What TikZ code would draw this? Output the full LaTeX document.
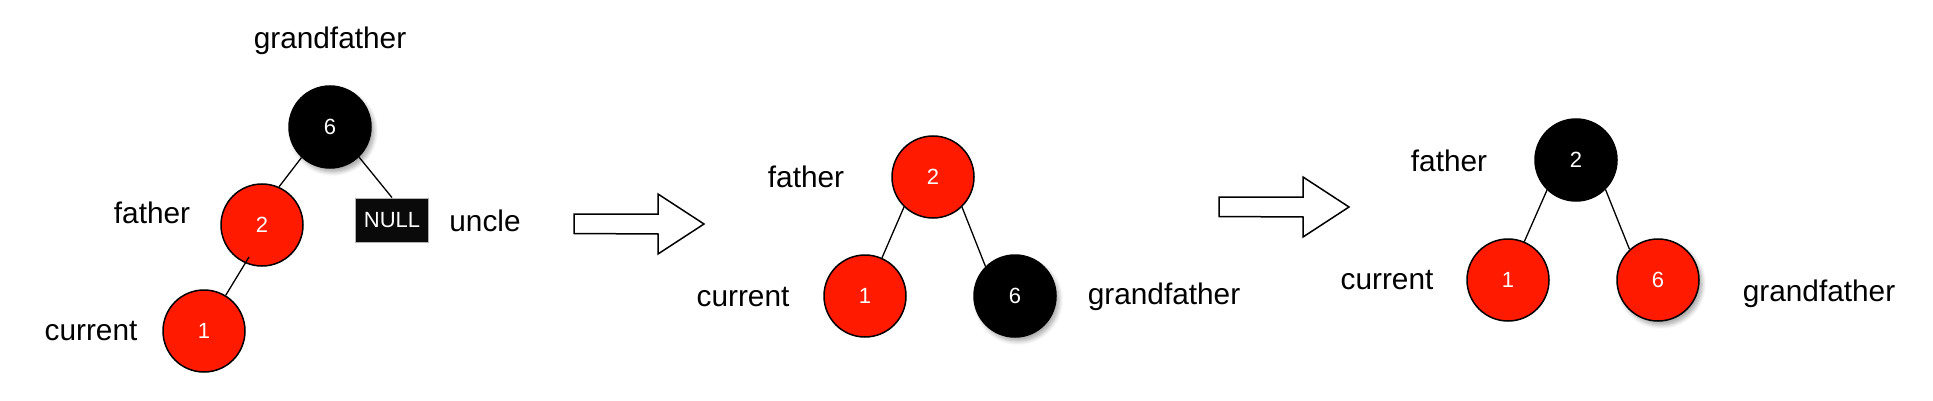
\documentclass[tikz,border=0pt]{standalone}
\usepackage{fontspec}
\setmainfont{Liberation Sans}
\usetikzlibrary{shadows.blur}
\definecolor{rbred}{HTML}{FF1A00}

\begin{document}
\begin{tikzpicture}[x=0.5pt, y=-0.5pt,
        rbnode/.style={circle, draw=black, line width=0.75pt, minimum size=41pt, inner sep=0pt,
            text=white, font=\fontsize{11}{13}\selectfont},
        rednode/.style={rbnode, fill=rbred},
        blacknode/.style={rbnode, fill=black},
        soft/.style={blur shadow={shadow xshift=1.5pt, shadow yshift=-2pt, shadow blur steps=6, shadow opacity=35}},
        lbl/.style={font=\fontsize{14.9}{17}\selectfont},
        edge/.style={line width=0.65pt}]
        \useasboundingbox (0,0) rectangle (1933,401);

        % before
        \node[blacknode, soft] (g1) at (330,127) {6};
        \node[rednode] (f1) at (262,225) {2};
        \node[rednode] (c1) at (204,331) {1};
        \node[draw=gray!60, fill=black!96, text=white, minimum width=36.5pt, minimum height=22pt,
            inner sep=0pt, font=\fontsize{11}{13}\selectfont] (u1) at (392,220) {NULL};
        \coordinate (f1in) at (249,257);
        \node[lbl] (lg1) at (330,41) {grandfather};
        \node[lbl] (lf1) at (152,213) {father};
        \node[lbl] (lc1) at (91,331) {current};
        \node[lbl] (lu1) at (485,221) {uncle};
        \draw[edge] (g1.227) -- (f1.66);
        \draw[edge] (g1.314) -- (u1.north);
        \draw[edge] (f1in) -- (c1);

        % after rotation
        \node[rednode] (f2) at (933,177) {2};
        \node[rednode] (c2) at (865,296) {1};
        \node[blacknode, soft] (g2) at (1015,296) {6};
        \node[lbl] (lf2) at (806,177) {father};
        \node[lbl] (lc2) at (743,297) {current};
        \node[lbl] (lg2) at (1164,297) {grandfather};
        \draw[edge] (f2.226) -- (c2.66);
        \draw[edge] (f2.314) -- (g2.135);

        % after recolouring
        \node[blacknode] (f3) at (1576,160) {2};
        \node[rednode] (c3) at (1508,280) {1};
        \node[rednode, soft] (g3) at (1658,280) {6};
        \node[lbl] (lf3) at (1449,161) {father};
        \node[lbl] (lc3) at (1387,280) {current};
        \node[lbl] (lg3) at (1819,294) {grandfather};
        \draw[edge] (f3.226) -- (c3.67);
        \draw[edge] (f3.315) -- (g3.133);

        \foreach \ax/\ay in {574/224, 1219/207}
            \draw[line width=0.75pt, fill=white] (\ax,\ay-10) -- ++(84,0) -- ++(0,-20) -- (\ax+130,\ay)
                -- (\ax+84,\ay+30) -- ++(0,-20) -- (\ax,\ay+9.5) -- cycle;
\end{tikzpicture}
\end{document}
